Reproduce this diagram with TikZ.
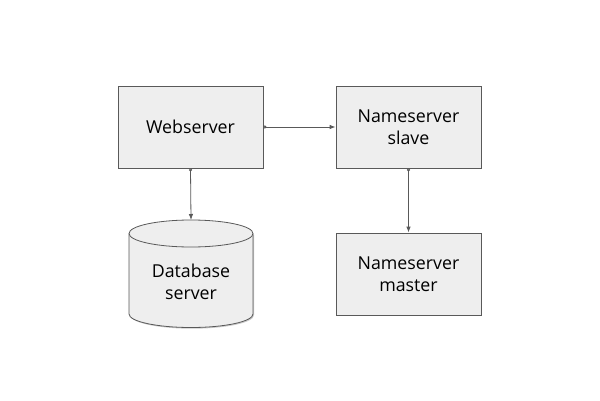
\documentclass[tikz,border=0pt]{standalone}
\usepackage{fontspec}
\setmainfont{Open Sans}
\usetikzlibrary{arrows.meta,shadows}
\definecolor{boxfill}{HTML}{EEEEEE}
\definecolor{edge}{HTML}{595959}
\begin{document}
\begin{tikzpicture}[x=1pt,y=1pt,
  box/.style={draw=edge, fill=boxfill, line width=0.8pt, minimum width=145pt, minimum height=82pt,
    align=center, font=\fontsize{17.8}{21.5}\selectfont, inner sep=0pt,
    drop shadow={shadow xshift=1pt, shadow yshift=-1.2pt, opacity=0.35, fill=black!60}},
  conn/.style={draw=edge, line width=0.8pt, {Circle[open,length=3pt,width=3pt,fill=white]}-{Latex[length=6pt,width=4.5pt]}},
  lbl/.style={align=center, font=\fontsize{17.8}{21.5}\selectfont, inner sep=0pt}]
\useasboundingbox (0,0) rectangle (600,400);
\node[box] (web) at (190.5,273) {Webserver};
\node[box] (slave) at (408.5,273) {Nameserver\\slave};
\node[box] (master) at (408.5,126) {Nameserver\\master};
% cylinder
\fill[black!60, opacity=0.35] (129+1,166.5-1.2) -- (129+1,86-1.2) arc (180:360:62 and 13.5) -- (253+1,166.5-1.2) -- cycle;
\draw[edge, fill=boxfill, line width=0.8pt] (129,166.5) -- (129,86) arc (180:360:62 and 13.5) -- (253,166.5) arc (0:180:62 and 13.5) -- cycle;
\draw[edge, line width=0.8pt] (129,166.5) arc (180:360:62 and 13.5);
\coordinate (dbtop) at (191,180);
\node[lbl] (db) at (191,118) {Database\\server};
\draw[conn] (web.east) -- (slave.west);
\draw[conn] (web.south) -- (dbtop);
\draw[conn] (slave.south) -- (master.north);
\end{tikzpicture}
\end{document}
